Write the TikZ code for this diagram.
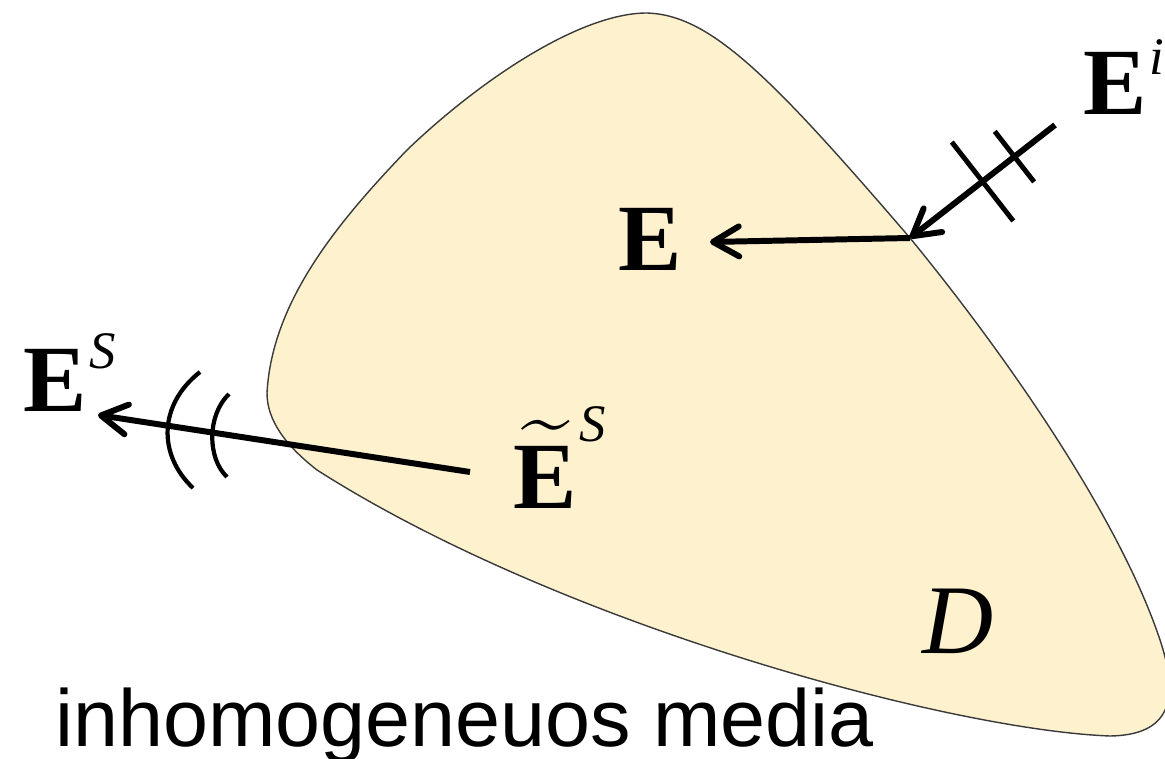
\documentclass[tikz,border=0pt]{standalone}
\usepackage{amsmath}
\usepackage{exscale}
\usepackage{fontspec}
\setmainfont{Liberation Serif}
\setsansfont{Liberation Sans}
\usetikzlibrary{arrows.meta,calc}
\usepackage{xcolor}
\definecolor{MediaFill}{HTML}{FDF1CE}
\definecolor{MediaEdge}{HTML}{3A3A3A}
\newcommand{\fieldlabel}[3][0.42cm]{\textbf{#2}\hspace{0.02cm}\raisebox{#1}{\fontsize{15}{15}\selectfont\itshape #3}}

\begin{document}
\begin{tikzpicture}[x=0.01cm, y=-0.01cm,
    media/.style={fill=MediaFill, draw=MediaEdge, line width=0.4pt},
    field/.style={font=\fontsize{27}{27}\selectfont, anchor=base west, inner sep=0pt},
    arr/.style={-{Straight Barb[length=2.6mm,width=3mm,round]}, line width=1.7pt},
    tick/.style={line width=1.4pt},
    wave/.style={line width=1.2pt}
  ]
    \useasboundingbox (0,0) rectangle (1165,758);
    \path[media] (647,13) .. controls (710,15) and (770,75) .. (910,238)
      .. controls (1010,360) and (1120,520) .. (1160,640)
      .. controls (1180,700) and (1170,735) .. (1110,736)
      .. controls (950,730) and (560,625) .. (317,470)
      .. controls (285,445) and (267,420) .. (267,393)
      .. controls (272,300) and (340,220) .. (407,150)
      .. controls (480,80) and (580,13) .. cycle;

    \node[field] (Ein) at (618,270) {\textbf{E}};
    \node[field] (Einc) at (1083,115) {\fieldlabel[0.40cm]{E}{i}};
    \node[field] (Escat) at (23,411) {\fieldlabel{E}{S}};
    \node[field] (Etil) at (513,508) {\fieldlabel[0.66cm]{$\widetilde{\text{E}}$}{S}};
    \node[field, font=\fontsize{28}{28}\selectfont\itshape] (dom) at (922,653) {D};
    \node[field, font=\sffamily\fontsize{23}{24}\selectfont] (medium) at (55,746) {inhomogeneuos media};

    \coordinate (hit) at (910,238);
    \coordinate (inTip) at (710,242);
    \coordinate (incStart) at (1055,125);
    \coordinate (scatStart) at (470,472);
    \coordinate (scatTip) at (98,415);

    \draw[arr] (hit) -- (inTip);
    \draw[arr] (incStart) -- (hit);
    \draw[arr] (scatStart) -- (scatTip);

    \path (incStart) -- (hit) coordinate[pos=0.28] (tickA) coordinate[pos=0.5] (tickB);
    \draw[tick] ($(tickA)!0.32cm!90:(hit)$) -- ($(tickA)!0.32cm!-90:(hit)$);
    \draw[tick] ($(tickB)!0.5cm!90:(hit)$) -- ($(tickB)!0.5cm!-90:(hit)$);

    \draw[wave] (200,372) .. controls (158,405) and (158,455) .. (193,488);
    \draw[wave] (229,394) .. controls (207,415) and (207,458) .. (227,477);
\end{tikzpicture}
\end{document}
